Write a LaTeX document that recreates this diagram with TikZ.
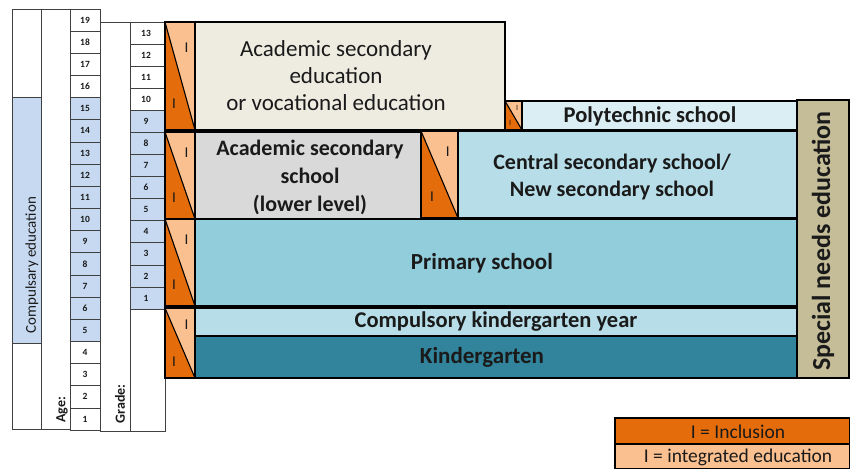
\documentclass[tikz,border=0pt]{standalone}
\usepackage{fontspec}
\setmainfont{Carlito}
\definecolor{odark}{HTML}{E46C0A}
\definecolor{olight}{HTML}{FAC090}
\definecolor{cblue}{HTML}{C6D9F1}
\definecolor{acadup}{HTML}{EEECE1}
\definecolor{acadlow}{HTML}{D9D9D9}
\definecolor{poly}{HTML}{DAEEF3}
\definecolor{central}{HTML}{B7DDE8}
\definecolor{primary}{HTML}{92CDDC}
\definecolor{kgyear}{HTML}{B7DEE8}
\definecolor{kg}{HTML}{31849B}
\definecolor{special}{HTML}{C4BD97}
\definecolor{txt}{HTML}{1A1A1A}
\newcommand\fs[1]{\fontsize{#1}{#1}\selectfont}
\newcommand\inclbox[6]{%
  \fill[olight] (#1,#2) rectangle (#3,#4);
  \fill[odark] (#1,#2) -- (#3,#4) -- (#1,#4) -- cycle;
  \draw[line width=1.1pt] (#1,#2) -- (#3,#4);
  \draw[boxline] (#1,#2) rectangle (#3,#4);
  \node[itext,font=\fs{#6}] (#5a) at ({#1+0.72*(#3-#1)},{#2+0.24*(#4-#2)}) {I};
  \node[itext,font=\fs{#6}] (#5b) at ({#1+0.3*(#3-#1)},{#2+0.76*(#4-#2)}) {I};
}
\begin{document}
\begin{tikzpicture}[x=1pt,y=-1pt,
  grid/.style={draw=black!75,line width=0.7pt},
  boxline/.style={draw=black,line width=1.6pt},
  itext/.style={text=txt,inner sep=0},
  lbl/.style={text=txt,align=center,inner sep=0},
  num/.style={text=txt,font=\fs{9.5}\bfseries,inner sep=0}]
\useasboundingbox (0,0) rectangle (850,468);
% left columns
\fill[cblue] (12,97) rectangle (41,343);
\draw[grid] (12,9) rectangle (41,429);
\draw[grid] (12,97) -- (41,97) (12,343) -- (41,343);
\draw[grid] (41,9) rectangle (70,429);
\node[lbl,rotate=90,font=\fs{15}] (comp) at (32,265) {Compulsary education};
\node[lbl,rotate=90,font=\fs{14}\bfseries] (age) at (62,410) {Age:};
% age cells
\foreach \k in {1,...,19}{
  \pgfmathsetmacro\yt{9+(19-\k)*22.16}
  \pgfmathsetmacro\yb{9+(20-\k)*22.16}
  \ifnum\k>4 \ifnum\k<16 \fill[cblue] (70,\yt) rectangle (100,\yb); \fi\fi
  \draw[grid] (70,\yt) rectangle (100,\yb);
  \node[num] (age\k) at (85,{(\yt+\yb)/2}) {\k};
}
% grade columns
\draw[grid] (100,22) rectangle (130,431);
\node[lbl,rotate=90,font=\fs{14}\bfseries] (grade) at (120,404) {Grade:};
\draw[grid] (130,22) rectangle (165,431);
\foreach \k in {1,...,13}{
  \pgfmathsetmacro\yt{22+(13-\k)*22.08}
  \pgfmathsetmacro\yb{22+(14-\k)*22.08}
  \ifnum\k<10 \fill[cblue] (130,\yt) rectangle (165,\yb); \fi
  \draw[grid] (130,\yt) rectangle (165,\yb);
  \node[num] (gr\k) at (146,{(\yt+\yb)/2}) {\k};
}
% main blocks
\draw[boxline,fill=acadup] (195,22) rectangle (505,130);
\node[lbl,font=\fs{23}] (acadup) at (336,76) {Academic secondary\\[4pt]education\\[4pt]or vocational education};
\inclbox{165}{22}{195}{130}{i1}{15}
\draw[boxline,fill=poly] (522,101) rectangle (797,130);
\node[lbl,font=\fs{22.5}\bfseries] (poly) at (650,116) {Polytechnic school};
\inclbox{505}{101}{522}{130}{i2}{8}
\draw[boxline,fill=acadlow] (195,132) rectangle (421,219);
\node[lbl,font=\fs{22}\bfseries] (acadlow) at (310,177) {Academic secondary\\[6pt]school\\[6pt](lower level)};
\inclbox{165}{132}{195}{219}{i3}{15}
\draw[boxline,fill=central] (458,131) rectangle (797,218);
\node[lbl,font=\fs{22}\bfseries] (central) at (612,177) {Central secondary school/\\[5pt]New secondary school};
\inclbox{421}{131}{458}{218}{i4}{15}
\draw[boxline,fill=primary] (195,219) rectangle (797,306);
\node[lbl,font=\fs{23}\bfseries] (primary) at (482,263) {Primary school};
\inclbox{165}{219}{195}{306}{i5}{15}
\draw[boxline,fill=kgyear] (195,308) rectangle (797,336);
\node[lbl,font=\fs{22.5}\bfseries] (kgyear) at (496,322) {Compulsory kindergarten year};
\draw[boxline,fill=kg] (195,336) rectangle (797,378);
\node[lbl,font=\fs{23}\bfseries] (kg) at (482,357) {Kindergarten};
\inclbox{165}{308}{195}{378}{i6}{15}
\draw[boxline,fill=special] (797,100) rectangle (849,378);
\node[lbl,rotate=90,font=\fs{26}\bfseries] (special) at (823,241) {Special needs education};
% legend
\draw[boxline,fill=odark] (615,418) rectangle (850,444);
\node[lbl,font=\fs{19.5}] (leg1) at (738,432) {I = Inclusion};
\draw[boxline,fill=olight] (615,444) rectangle (850,469);
\node[lbl,font=\fs{19.5}] (leg2) at (738,457) {I = integrated education};
\end{tikzpicture}
\end{document}
